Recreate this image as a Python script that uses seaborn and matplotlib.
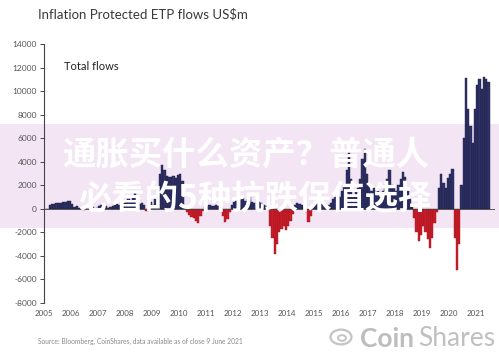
import matplotlib
matplotlib.use("Agg")
import matplotlib.pyplot as plt
from matplotlib.patches import Rectangle, Circle
import pandas as pd
import seaborn as sns

# Monthly net flows (US$m), Jan..Dec per year
FLOWS_2005 = [0, 0, 350, 400, 450, 480, 500, 520, 560, 600, 650, 700]
FLOWS_2006 = [400, 150, 200, 100, 0, -100, 50, 0, 100, 150, 0, 50]
FLOWS_2007 = [250, 300, 250, 200, 100, 150, 250, 300, 400, 300, 200, 500]
FLOWS_2008 = [600, 800, 700, 1000, 1400, 600, 400, 500, 300, -200, 300, 600]
FLOWS_2009 = [300, 800, 1800, 3000, 3700, 3300, 2800, 2700, 2700, 2800, 2600, 2900]
FLOWS_2010 = [3000, 2400, 100, -300, -500, -700, -800, -1000, -1200, -600, -200, 150]
FLOWS_2011 = [200, 300, 200, 250, 300, 200, 150, -600, -1100, -900, -300, 300]
FLOWS_2012 = [600, 800, 1200, 1000, 900, 700, 800, 1000, 600, 500, 800, 600]
FLOWS_2013 = [500, 300, 200, 100, -1500, -2500, -3800, -3000, -2000, -1700, -1500, -1800]
FLOWS_2014 = [-1500, -1000, -400, 300, 500, 400, 300, 200, -300, -1150, -600, 200]
FLOWS_2015 = [300, 500, 600, 400, 300, 200, 300, 500, 800, 1000, 1200, 1000]
FLOWS_2016 = [1500, 2000, 3300, 4700, 2500, 1200, 1500, 1800, 2500, 4200, 5100, 3000]
FLOWS_2017 = [2200, 1500, 1800, 1200, 1500, 1000, 1500, 2000, 2500, 3300, 2000, 1800]
FLOWS_2018 = [1500, 2000, 2500, 3100, 2700, 1500, 800, 300, -800, -2000, -2700, -2200]
FLOWS_2019 = [-1500, -2000, -2600, -3300, -2500, -1200, -300, 1800, 3000, 2200, 1800, 2600]
FLOWS_2020 = [3000, 3400, -2500, -5200, -3000, 2000, 6000, 11100, 8500, 7000, 5600, 8500]
FLOWS_2021 = [10500, 11000, 10200, 11200, 11000, 10800]

FLOWS = {
    2005: FLOWS_2005, 2006: FLOWS_2006, 2007: FLOWS_2007, 2008: FLOWS_2008,
    2009: FLOWS_2009, 2010: FLOWS_2010, 2011: FLOWS_2011, 2012: FLOWS_2012,
    2013: FLOWS_2013, 2014: FLOWS_2014, 2015: FLOWS_2015, 2016: FLOWS_2016,
    2017: FLOWS_2017, 2018: FLOWS_2018, 2019: FLOWS_2019, 2020: FLOWS_2020,
    2021: FLOWS_2021,
}

X_TICKS = list(range(2005, 2022))
Y_TICKS = list(range(-8000, 14001, 2000))

TITLE = "Inflation Protected ETP flows US$m"
LABEL = "Total flows"
SOURCE = "Source: Bloomberg, CoinShares, data available as of close 9 June 2021"
OVERLAY_1 = "通胀买什么资产？普通人"
OVERLAY_2 = "必看的5种抗跌保值选择"

PALETTE = {"in": "#2e3266", "out": "#c81d2a"}
EDGES = {"in": "#1b1d44", "out": "#a3141f"}

rows = []
for year, vals in FLOWS.items():
    for m, v in enumerate(vals):
        rows.append({"t": round(year + (m + 0.5) / 12, 4), "flow": v,
                     "sign": "in" if v >= 0 else "out"})
df = pd.DataFrame(rows)

sns.set_style("white")
plt.rcParams["font.family"] = ["Lato", "DejaVu Sans"]

fig = plt.figure(figsize=(4.99, 3.52), dpi=100)
ax = fig.add_axes([44 / 499, 1 - 303 / 352, 451 / 499, 259 / 352])
ax.patch.set_alpha(0)

# watermark band behind the chart
band = Rectangle((0, 1 - 228 / 352), 1, 104 / 352, transform=fig.transFigure,
                 facecolor="#f3e5f3", edgecolor="none", zorder=-1)
fig.add_artist(band)

sns.barplot(data=df, x="t", y="flow", hue="sign", hue_order=["in", "out"],
            palette=PALETTE, saturation=1, native_scale=True, width=1.0,
            errorbar=None, legend=False, dodge=False, linewidth=0.3, ax=ax)
for p in ax.patches:
    p.set_edgecolor(EDGES["in"] if p.get_height() >= 0 else EDGES["out"])

ax.axhline(0, color="#444444", lw=0.6, zorder=3)

ax.set_xlim(2005, 2021.7)
ax.set_ylim(-8000, 14000)
ax.set_xticks(X_TICKS)
ax.set_xticklabels([str(y) for y in X_TICKS])
ax.set_yticks(Y_TICKS)
ax.set_yticklabels([str(v) for v in Y_TICKS])
ax.set_xlabel("")
ax.set_ylabel("")
ax.tick_params(axis="y", length=3, width=0.7, color="#444444", pad=2,
               labelsize=6, labelcolor="#555555", left=True)
ax.tick_params(axis="x", length=0, pad=5, labelsize=5.8, labelcolor="#555555")
sns.despine(ax=ax, bottom=True)
ax.spines["left"].set_color("#444444")
ax.spines["left"].set_linewidth(0.8)

fig.text(38 / 499, 1 - 14 / 352, TITLE, fontsize=9.5, color="#3a3a3a",
         ha="left", va="center")
fig.text(64 / 499, 1 - 67 / 352, LABEL, fontsize=8, color="#222222",
         ha="left", va="center")
fig.text(38 / 499, 1 - 341 / 352, SOURCE, fontsize=4.8, color="#8a8a8a",
         ha="left", va="center")

# watermark text
for txt, x, y in [(OVERLAY_1, 62, 155), (OVERLAY_2, 78, 200)]:
    fig.text(x / 499, 1 - y / 352, txt, fontsize=24, color="white",
             fontweight="bold", family=["Noto Sans CJK SC", "DejaVu Sans"],
             ha="left", va="center", zorder=5)

# CoinShares logo
fig.add_artist(Circle((341 / 499, 1 - 337 / 352), 0.021, transform=fig.transFigure,
                      facecolor="none", edgecolor="#c4c4c4", lw=1.6))
fig.add_artist(Circle((342 / 499, 1 - 338 / 352), 0.008, transform=fig.transFigure,
                      facecolor="none", edgecolor="#c4c4c4", lw=1.4))
fig.text(360 / 499, 1 - 339 / 352, "Coin", fontsize=19, color="#bdbdbd",
         fontweight="bold", ha="left", va="center")
fig.text(418 / 499, 1 - 339 / 352, "Shares", fontsize=19, color="#c0c0c0",
         fontweight="normal", ha="left", va="center")

fig.savefig("out.png", dpi=100)
